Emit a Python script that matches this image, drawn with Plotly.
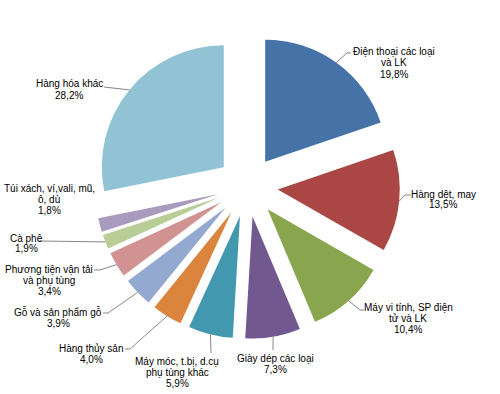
import math
import plotly.graph_objects as go

# ---- data ----
categories = [
    "Điện thoại các loại và LK",
    "Hàng dệt, may",
    "Máy vi tính, SP điện tử và LK",
    "Giày dép các loại",
    "Máy móc, t.bị, d.cụ phụ tùng khác",
    "Hàng thủy sản",
    "Gỗ và sản phẩm gỗ",
    "Phương tiện vận tải và phụ tùng",
    "Cà phê",
    "Túi xách, ví,vali, mũ, ô, dù",
    "Hàng hóa khác",
]
values = [19.8, 13.5, 10.4, 7.3, 5.9, 4.0, 3.9, 3.4, 1.9, 1.8, 28.2]
label_lines = [
    ["Điện thoại các loại", "và LK"],
    ["Hàng dệt, may"],
    ["Máy vi tính, SP điện", "tử và LK"],
    ["Giày dép các loại"],
    ["Máy móc, t.bị, d.cụ", "phụ tùng khác"],
    ["Hàng thủy sản"],
    ["Gỗ và sản phẩm gỗ"],
    ["Phương tiện vận tải", "và phụ tùng"],
    ["Cà phê"],
    ["Túi xách, ví,vali, mũ,", "ô, dù"],
    ["Hàng hóa khác"],
]
colors = ["#4572A7", "#AA4643", "#89A54E", "#71588F", "#4198AF", "#DB843D",
          "#93A9CF", "#D19392", "#B9CD96", "#A99BBD", "#92C3D4"]

# ---- layout (pixel placement of labels and leader lines) ----
W, H = 500, 394
PIE_CX, PIE_CY, PIE_R, PULL = 247.4, 186.5, 122.0, 0.25
# first text line centre (px)
label_pos = [(394, 52), (443, 194), (408, 307), (275, 358), (177, 361), (91, 348),
             (58, 312), (49, 269), (26, 238), (49, 188), (69, 84)]
LINE_H = 11.0
# leader waypoints after the slice point (px); None = no leader
leader_pts = [
    [(347, 53), (351, 53)],
    [(405, 195), (411, 195)],
    [(360, 310), (364, 310)],
    [(273, 350)],
    [(211, 353)],
    [(130, 349), (125, 349)],
    [(108, 313), (103, 313)],
    [(100, 270), (94, 270)],
    [(38, 241)],
    None,
    [(104, 87)],
]

half = PIE_R * (1 + PULL)
dom_x = [(PIE_CX - half) / W, (PIE_CX + half) / W]
dom_y = [(H - PIE_CY - half) / H, (H - PIE_CY + half) / H]

fig = go.Figure(go.Pie(
    labels=categories, values=values, sort=False, direction="clockwise",
    rotation=0, pull=[PULL] * len(values), textinfo="none",
    marker=dict(colors=colors, line=dict(width=0)),
    domain=dict(x=dom_x, y=dom_y), showlegend=False,
    hovertemplate="%{label}: %{value:.1f}%<extra></extra>",
))

def px2paper(x, y):
    return x / W, 1 - y / H

total = sum(values)
cum = 0.0
shapes, annotations = [], []
for i, v in enumerate(values):
    a0 = cum / total * 2 * math.pi
    cum += v
    a1 = cum / total * 2 * math.pi
    mid = (a0 + a1) / 2
    sx, sy = math.sin(mid), -math.cos(mid)
    pcx, pcy = PIE_CX + PULL * PIE_R * sx, PIE_CY + PULL * PIE_R * sy
    ax, ay = pcx + PIE_R * sx, pcy + PIE_R * sy
    if leader_pts[i]:
        pts = [(ax, ay)] + leader_pts[i]
        path = ""
        for k, (x, y) in enumerate(pts):
            X, Y = px2paper(x, y)
            path += ("M" if k == 0 else " L") + f"{X:.5f},{Y:.5f}"
        shapes.append(dict(type="path", path=path, xref="paper", yref="paper",
                           line=dict(color="#868686", width=1)))
    lines = label_lines[i] + [f"{v:.1f}%".replace(".", ",")]
    lx, ly = label_pos[i]
    for k, t in enumerate(lines):
        X, Y = px2paper(lx, ly + k * LINE_H)
        annotations.append(dict(text=t, x=X, y=Y, xref="paper", yref="paper",
                                xanchor="center", yanchor="middle", showarrow=False,
                                font=dict(family="Liberation Sans, Arial", size=10,
                                          color="#000000")))

fig.update_layout(
    width=W, height=H, margin=dict(l=0, r=0, t=0, b=0),
    paper_bgcolor="white", plot_bgcolor="white",
    shapes=shapes, annotations=annotations,
)
fig.write_html(
    "out.html",
    config={"displayModeBar": False},
    post_script="document.body.style.margin='0';document.body.style.padding='0';"
                "document.documentElement.style.overflow='hidden';",
)
